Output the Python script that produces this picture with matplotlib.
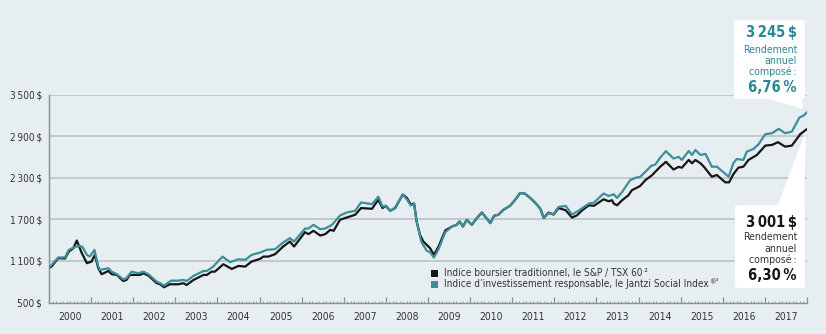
import matplotlib
matplotlib.use("Agg")
import matplotlib.pyplot as plt
from matplotlib.patches import FancyBboxPatch, Polygon, Rectangle
from matplotlib.transforms import blended_transform_factory

# ---------------- data ----------------
tsx_t = [2000.00, 2000.06, 2000.22, 2000.38, 2000.47, 2000.58, 2000.66, 2000.78, 2000.90, 2001.01,
         2001.09, 2001.17, 2001.25, 2001.41, 2001.49, 2001.61, 2001.76, 2001.84, 2001.92, 2002.16,
         2002.24, 2002.36, 2002.56, 2002.64, 2002.73, 2002.87, 2003.07, 2003.19, 2003.27, 2003.43,
         2003.67, 2003.75, 2003.86, 2003.94, 2004.14, 2004.34, 2004.50, 2004.66, 2004.81, 2005.01,
         2005.09, 2005.21, 2005.37, 2005.56, 2005.72, 2005.82, 2006.08, 2006.16, 2006.28, 2006.44,
         2006.56, 2006.68, 2006.76, 2006.91, 2007.07, 2007.27, 2007.41, 2007.67, 2007.82, 2007.92,
         2008.00, 2008.10, 2008.22, 2008.40, 2008.50, 2008.59, 2008.67, 2008.73, 2008.81, 2008.89,
         2009.05, 2009.14, 2009.25, 2009.41, 2009.57, 2009.68, 2009.75, 2009.83, 2009.92, 2010.04,
         2010.16, 2010.28, 2010.48, 2010.57, 2010.67, 2010.79, 2010.95, 2011.07, 2011.19, 2011.30,
         2011.43, 2011.59, 2011.67, 2011.75, 2011.86, 2011.98, 2012.10, 2012.27, 2012.42, 2012.54,
         2012.66, 2012.82, 2012.94, 2013.17, 2013.29, 2013.37, 2013.41, 2013.49, 2013.61, 2013.76,
         2013.84, 2014.04, 2014.16, 2014.32, 2014.51, 2014.65, 2014.83, 2014.95, 2015.03, 2015.19,
         2015.27, 2015.35, 2015.47, 2015.55, 2015.74, 2015.86, 2016.06, 2016.15, 2016.25, 2016.37,
         2016.49, 2016.61, 2016.81, 2017.01, 2017.17, 2017.31, 2017.48, 2017.64, 2017.84, 2018.00]
tsx_v = [1000, 1018, 1140, 1135, 1235, 1284, 1394, 1211, 1067, 1090,
         1187, 995, 908, 955, 908, 898, 811, 825, 898, 898,
         922, 888, 778, 763, 720, 763, 763, 778, 753, 825,
         898, 898, 945, 945, 1052, 984, 1027, 1018, 1090, 1129,
         1162, 1162, 1197, 1307, 1379, 1307, 1515, 1486, 1534, 1466,
         1486, 1548, 1534, 1693, 1726, 1765, 1862, 1852, 1982, 1862,
         1895, 1823, 1862, 2057, 2008, 1913, 1928, 1668, 1476, 1379,
         1283, 1187, 1307, 1538, 1596, 1620, 1668, 1596, 1693, 1620,
         1717, 1798, 1645, 1751, 1765, 1837, 1895, 1982, 2079, 2070,
         2007, 1910, 1848, 1717, 1797, 1768, 1863, 1830, 1725, 1758,
         1830, 1902, 1895, 1989, 1960, 1975, 1927, 1902, 1975, 2047,
         2119, 2181, 2264, 2336, 2456, 2529, 2418, 2456, 2445, 2556,
         2508, 2556, 2508, 2459, 2314, 2339, 2233, 2233, 2349, 2445,
         2459, 2556, 2628, 2763, 2773, 2812, 2748, 2763, 2928, 3001]

jsi_t = [2000.00, 2000.22, 2000.38, 2000.47, 2000.58, 2000.70, 2000.79, 2000.90, 2000.97, 2001.08,
         2001.16, 2001.21, 2001.41, 2001.49, 2001.61, 2001.76, 2001.84, 2001.96, 2002.12, 2002.24,
         2002.36, 2002.56, 2002.64, 2002.73, 2002.90, 2003.07, 2003.19, 2003.27, 2003.43, 2003.67,
         2003.75, 2003.90, 2004.12, 2004.30, 2004.50, 2004.66, 2004.81, 2005.01, 2005.17, 2005.37,
         2005.56, 2005.72, 2005.82, 2006.08, 2006.16, 2006.28, 2006.44, 2006.56, 2006.72, 2006.91,
         2007.07, 2007.27, 2007.41, 2007.67, 2007.82, 2007.92, 2008.00, 2008.10, 2008.22, 2008.40,
         2008.50, 2008.59, 2008.67, 2008.73, 2008.84, 2008.97, 2009.05, 2009.14, 2009.25, 2009.41,
         2009.57, 2009.68, 2009.75, 2009.83, 2009.92, 2010.04, 2010.16, 2010.28, 2010.48, 2010.57,
         2010.67, 2010.79, 2010.95, 2011.07, 2011.19, 2011.30, 2011.43, 2011.59, 2011.67, 2011.75,
         2011.86, 2011.98, 2012.10, 2012.27, 2012.42, 2012.59, 2012.82, 2012.94, 2013.17, 2013.29,
         2013.41, 2013.49, 2013.61, 2013.80, 2013.92, 2014.04, 2014.16, 2014.30, 2014.40, 2014.51,
         2014.65, 2014.83, 2014.95, 2015.03, 2015.19, 2015.27, 2015.35, 2015.47, 2015.59, 2015.74,
         2015.86, 2016.14, 2016.25, 2016.33, 2016.49, 2016.57, 2016.73, 2016.85, 2017.01, 2017.17,
         2017.33, 2017.48, 2017.64, 2017.82, 2017.92, 2018.00]
jsi_v = [1000, 1150, 1150, 1259, 1292, 1317, 1307, 1187, 1162, 1259,
         1042, 970, 994, 945, 908, 835, 850, 945, 922, 945,
         908, 800, 778, 743, 815, 815, 825, 811, 883, 955,
         955, 1018, 1162, 1081, 1124, 1115, 1187, 1220, 1259, 1269,
         1365, 1428, 1379, 1567, 1567, 1620, 1558, 1567, 1620, 1755,
         1798, 1823, 1943, 1919, 2025, 1885, 1895, 1823, 1870, 2057,
         1985, 1899, 1923, 1668, 1379, 1245, 1225, 1148, 1269, 1514,
         1596, 1620, 1668, 1596, 1693, 1620, 1717, 1798, 1645, 1751,
         1765, 1837, 1895, 1982, 2079, 2070, 2007, 1910, 1848, 1717,
         1790, 1775, 1878, 1893, 1768, 1830, 1927, 1941, 2072, 2037,
         2061, 2008, 2095, 2264, 2297, 2312, 2384, 2471, 2491, 2587,
         2683, 2577, 2601, 2556, 2686, 2628, 2700, 2628, 2643, 2459,
         2459, 2314, 2508, 2570, 2556, 2676, 2715, 2783, 2928, 2942,
         3004, 2942, 2965, 3168, 3197, 3245]

years = list(range(2000, 2018))
ytick_vals = [500, 1100, 1700, 2300, 2900, 3500]
ytick_labels = ["500\u2009$", "1\u2009100\u2009$", "1\u2009700\u2009$", "2\u2009300\u2009$",
                "2\u2009900\u2009$", "3\u2009500\u2009$"]
legend_labels = ["Indice boursier traditionnel, le S&P / TSX 60\u2009²",
                 "Indice d\u2019investissement responsable, le Jantzi Social Index"]
callout_jsi = ["3\u2009245\u2009$", "Rendement", "annuel", "composé\u2009:", "6,76\u2009%"]
callout_tsx = ["3\u2009001\u2009$", "Rendement", "annuel", "composé\u2009:", "6,30\u2009%"]

# ---------------- style ----------------
BG = "#e7eef1"
TEAL = "#3b8f9b"
TEAL_TXT = "#2b8794"
BLACK = "#161616"
GRID = "#bcc2c5"
AXC = "#8a8f92"
TXT = "#333333"
plt.rcParams["font.family"] = ["DejaVu Sans"]
plt.rcParams["font.stretch"] = "condensed"

W, H = 826, 334
fig = plt.figure(figsize=(W / 100, H / 100), dpi=100)
fig.patch.set_facecolor(BG)


def fx(x):
    return x / W


def fy(y):
    return 1 - y / H


ax = fig.add_axes([fx(49), fy(302.5), fx(807) - fx(49), fy(94.5) - fy(302.5)])
ax.set_facecolor(BG)
ax.set_xlim(2000, 2018)
ax.set_ylim(500, 3500)

for s in ["top", "right"]:
    ax.spines[s].set_visible(False)
ax.spines["left"].set_color(AXC)
ax.spines["bottom"].set_color(AXC)
ax.spines["left"].set_linewidth(1.0)
ax.spines["bottom"].set_linewidth(1.0)

ax.set_yticks(ytick_vals)
ax.set_yticklabels(ytick_labels, fontsize=7.2, color=TXT)
ax.tick_params(axis="y", length=0, pad=5)
for v in ytick_vals[1:]:
    ax.axhline(v, color=GRID, lw=1.2, zorder=1)

ax.set_xticks(list(range(2000, 2019)))
ax.set_xticklabels([])
ax.set_xticks([y + m / 12 for y in years for m in range(1, 12)], minor=True)
ax.tick_params(axis="x", which="major", direction="in", length=4, width=0.9, color=AXC)
ax.tick_params(axis="x", which="minor", direction="in", length=1.6, width=0.6, color=AXC)
trans = blended_transform_factory(ax.transData, ax.transAxes)
for y in years:
    ax.text(y + 0.5, -0.045, str(y), transform=trans, ha="center", va="top",
            fontsize=7.4, color=TXT)

ax.plot(tsx_t, tsx_v, color=BLACK, lw=1.6, zorder=3, solid_joinstyle="round")
ax.plot(jsi_t, jsi_v, color=TEAL, lw=1.6, zorder=4, solid_joinstyle="round")

# legend
for i, (lab, col) in enumerate(zip(legend_labels, [BLACK, TEAL])):
    yc = 273 + i * 11
    fig.patches.append(Rectangle((fx(431), fy(yc + 3.5)), fx(7), 7 / H,
                                 transform=fig.transFigure, facecolor=col, edgecolor="none"))
    t = fig.text(fx(444), fy(yc), lab, ha="left", va="center", fontsize=7.2, color=TXT)
    if i == 1:
        fig.canvas.draw()
        bb = t.get_window_extent()
        fig.text(bb.x1 / W + 0.5 / W, fy(yc - 3), "®³", ha="left", va="center",
                 fontsize=5.3, color=TXT)


def callout(x0, y0, x1, y1, tail):
    box = FancyBboxPatch((fx(x0), fy(y1)), fx(x1) - fx(x0), fy(y0) - fy(y1),
                         boxstyle="round,pad=0,rounding_size=0.006",
                         transform=fig.transFigure, facecolor="white", edgecolor="none",
                         zorder=10)
    fig.patches.append(box)
    fig.patches.append(Polygon([(fx(a), fy(b)) for a, b in tail], closed=True,
                               transform=fig.transFigure, facecolor="white",
                               edgecolor="none", zorder=10))


xr = 797
# teal callout (top)
callout(734, 20, 805, 99, [(765, 98), (801, 98), (803, 109)])
fig.text(fx(xr), fy(33), callout_jsi[0], ha="right", va="center", fontsize=10.5,
         fontweight="bold", color=TEAL_TXT, zorder=11)
for k, yy in zip(range(1, 4), [50, 61, 72]):
    fig.text(fx(xr), fy(yy), callout_jsi[k], ha="right", va="center", fontsize=7.6,
             color=TEAL_TXT, zorder=11)
fig.text(fx(xr), fy(87), callout_jsi[4], ha="right", va="center", fontsize=10.5,
         fontweight="bold", color=TEAL_TXT, zorder=11)

# black callout (bottom)
callout(735, 205, 805, 288, [(777, 207), (804, 207), (806, 131)])
fig.text(fx(xr), fy(222), callout_tsx[0], ha="right", va="center", fontsize=10.5,
         fontweight="bold", color=BLACK, zorder=11)
for k, yy in zip(range(1, 4), [237, 248.5, 259.5]):
    fig.text(fx(xr), fy(yy), callout_tsx[k], ha="right", va="center", fontsize=7.6,
             color=TXT, zorder=11)
fig.text(fx(xr), fy(275), callout_tsx[4], ha="right", va="center", fontsize=10.5,
         fontweight="bold", color=BLACK, zorder=11)

fig.savefig("out.png", dpi=100, facecolor=BG)
